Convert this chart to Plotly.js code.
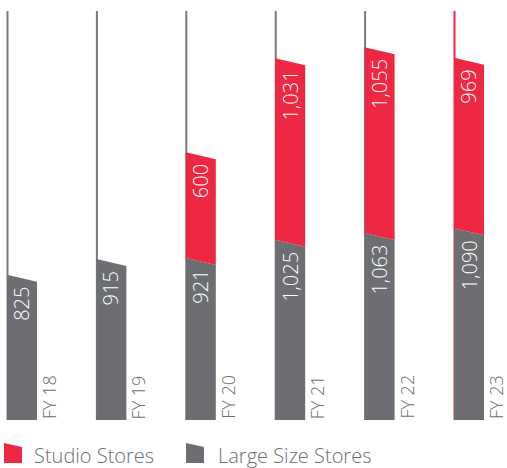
<!DOCTYPE html>
<html>
<head>
<meta charset="utf-8">
<script src="https://cdn.plot.ly/plotly-3.0.1.min.js"></script>
<style>html,body{margin:0;padding:0;background:#fff;}#chart{width:507px;height:468px;}</style>
</head>
<body>
<div id="chart"></div>
<script>
const years = ['FY 18', 'FY 19', 'FY 20', 'FY 21', 'FY 22', 'FY 23'];
const largeStores = [825, 915, 921, 1025, 1063, 1090];
const studioStores = [null, null, 600, 1031, 1055, 969];
const seriesNames = ['Studio Stores', 'Large Size Stores'];

const RED = '#EE2742';
const GRAY = '#6D6E71';
const FONT = '"Open Sans", Lato, "DejaVu Sans", sans-serif';

const W = 507, H = 468;
const M = {l: 0, r: 0, t: 10, b: 48};
const plotH = H - M.t - M.b;
const YMAX = 2330;
const pxPerUnit = plotH / YMAX;
const pxPerX = 89.4;
const XMIN = -7 / pxPerX;
const XMAX = XMIN + W / pxPerX;
const BW = 30 / pxPerX;          // bar width in x units
const SLANT = 7 / pxPerUnit;     // slanted top drop in y units

function fmt(v) { return v.toLocaleString('en-US'); }

// build polygons from data
const gx = [], gy = [], rx = [], ry = [];
years.forEach((_, i) => {
  const g = largeStores[i];
  gx.push(i, i + BW, i + BW, i, i, null);
  gy.push(0, 0, g - SLANT, g, 0, null);
  const r = studioStores[i];
  if (r != null) {
    rx.push(i, i + BW, i + BW, i, i, null);
    ry.push(g, g - SLANT, g + r - SLANT, g + r, g, null);
  }
});

const traces = [
  {x: gx, y: gy, type: 'scatter', mode: 'lines', fill: 'toself', fillcolor: GRAY,
   line: {width: 0, color: GRAY}, name: seriesNames[1], hoverinfo: 'skip', showlegend: false},
  {x: rx, y: ry, type: 'scatter', mode: 'lines', fill: 'toself', fillcolor: RED,
   line: {width: 0, color: RED}, name: seriesNames[0], hoverinfo: 'skip', showlegend: false}
];

const shapes = [];
const annotations = [];
years.forEach((yr, i) => {
  const isLast = i === years.length - 1;
  shapes.push({type: 'line', layer: 'below', xref: 'x', yref: 'paper',
    x0: i + 0.5 / pxPerX, x1: i + 0.5 / pxPerX, y0: 0, y1: 1 - 1 / plotH,
    line: {color: isLast ? RED : '#7a7a7c', width: 2}});
  // value labels
  const g = largeStores[i];
  annotations.push({x: i + BW / 2, y: g, xref: 'x', yref: 'y', text: fmt(g),
    textangle: -90, showarrow: false, xanchor: 'center', yanchor: 'top', yshift: -10,
    font: {family: FONT, size: 20, color: '#ffffff', weight: 300}});
  const r = studioStores[i];
  if (r != null) {
    annotations.push({x: i + BW / 2, y: g + r, xref: 'x', yref: 'y', text: fmt(r),
      textangle: -90, showarrow: false, xanchor: 'center', yanchor: 'top', yshift: -10,
      font: {family: FONT, size: 20, color: '#ffffff', weight: 300}});
  }
  // year labels
  annotations.push({x: i + BW, y: 0, xref: 'x', yref: 'y', text: yr,
    textangle: -90, showarrow: false, xanchor: 'left', yanchor: 'bottom', xshift: -2, yshift: -1,
    font: {family: FONT, size: 18, color: GRAY, weight: 300}});
});

// custom legend (paper coordinates derived from pixel positions)
function px2x(px) { return px / W; }
function px2y(py) { return (H - M.b - py) / plotH; }
const legendItems = [
  {name: seriesNames[0], color: RED, x: 4, tx: 32},
  {name: seriesNames[1], color: GRAY, x: 186, tx: 216}
];
legendItems.forEach(it => {
  const x0 = px2x(it.x), x1 = px2x(it.x + 18);
  shapes.push({type: 'path', xref: 'paper', yref: 'paper', layer: 'above',
    path: `M ${x0} ${px2y(463)} L ${x1} ${px2y(463)} L ${x1} ${px2y(447)} L ${x0} ${px2y(443)} Z`,
    fillcolor: it.color, line: {width: 0}});
  annotations.push({x: px2x(it.tx), y: px2y(455), xref: 'paper', yref: 'paper', text: it.name,
    showarrow: false, xanchor: 'left', yanchor: 'middle',
    font: {family: FONT, size: 20, color: GRAY, weight: 300}});
});

const layout = {
  width: W, height: H, margin: M,
  paper_bgcolor: '#ffffff', plot_bgcolor: '#ffffff',
  showlegend: false,
  xaxis: {range: [XMIN, XMAX], visible: false, fixedrange: true},
  yaxis: {range: [0, YMAX], visible: false, fixedrange: true},
  shapes: shapes, annotations: annotations
};

Plotly.newPlot('chart', traces, layout, {displayModeBar: false, staticPlot: true});
</script>
</body>
</html>
